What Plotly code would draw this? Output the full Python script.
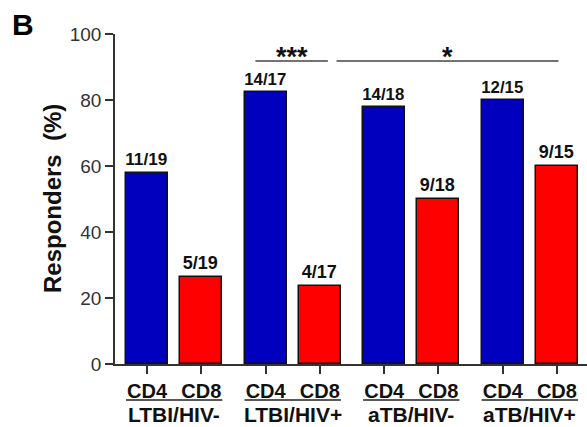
import plotly.graph_objects as go

groups = ["LTBI/HIV-", "LTBI/HIV+", "aTB/HIV-", "aTB/HIV+"]
cells = ["CD4", "CD8"]
cd4_pct = [57.9, 82.4, 77.8, 80.0]
cd8_pct = [26.3, 23.5, 50.0, 60.0]
cd4_labels = ["11/19", "14/17", "14/18", "12/15"]
cd8_labels = ["5/19", "4/17", "9/18", "9/15"]
y_ticks = [0, 20, 40, 60, 80, 100]

GROUP_PITCH = 2.19
BAR_W = 0.78
FONT = "Liberation Sans, Arial, sans-serif"

x_cd4 = [g * GROUP_PITCH for g in range(len(groups))]
x_cd8 = [g * GROUP_PITCH + 1 for g in range(len(groups))]

fig = go.Figure()
fig.add_trace(go.Bar(
    x=x_cd4, y=cd4_pct, width=BAR_W, text=cd4_labels, textposition="outside",
    marker=dict(color="#0000BE", line=dict(color="#111111", width=1.5)),
    textfont=dict(family=FONT, size=18, color="#111111", weight="bold"),
    cliponaxis=False, showlegend=False, hoverinfo="skip"))
fig.add_trace(go.Bar(
    x=x_cd8, y=cd8_pct, width=BAR_W, text=cd8_labels, textposition="outside",
    marker=dict(color="#FF0000", line=dict(color="#111111", width=1.5)),
    textfont=dict(family=FONT, size=18, color="#111111", weight="bold"),
    cliponaxis=False, showlegend=False, hoverinfo="skip"))

tickvals = []
ticktext = []
for a, b in zip(x_cd4, x_cd8):
    tickvals += [a, b]
    ticktext += cells

annotations = []
shapes = []
for g, name in enumerate(groups):
    cx = (x_cd4[g] + x_cd8[g]) / 2
    annotations.append(dict(x=cx, y=-0.152, xref="x", yref="paper", text="<b>" + name + "</b>",
                            showarrow=False, font=dict(family=FONT, size=21, color="#111111"),
                            xanchor="center", yanchor="middle"))
    shapes.append(dict(type="line", xref="x", yref="paper",
                       x0=x_cd4[g] - BAR_W / 2, x1=x_cd8[g] + BAR_W / 2, y0=-0.109, y1=-0.109,
                       line=dict(color="#222222", width=1.5)))

# significance brackets
sig = [
    (x_cd4[1] - 0.19, x_cd8[1] + 0.15, "***"),
    (x_cd8[1] + 0.31, x_cd8[3] + 0.03, "*"),
]
for x0, x1, s in sig:
    shapes.append(dict(type="line", xref="x", yref="y", x0=x0, x1=x1, y0=91.8, y1=91.8,
                       line=dict(color="#444444", width=1.5)))
    annotations.append(dict(x=(x0 + x1) / 2, y=91.8, xref="x", yref="y", text="<b>" + s + "</b>",
                            showarrow=False, font=dict(family=FONT, size=27, color="#111111"),
                            xanchor="center", yanchor="bottom", yshift=-13))

annotations.append(dict(x=-0.1335, y=0.503, xref="paper", yref="paper",
                        text="<b>Responders\u00a0\u00a0(%)</b>", textangle=-90, showarrow=False,
                        font=dict(family=FONT, size=24, color="#111111"),
                        xanchor="center", yanchor="middle"))
annotations.append(dict(x=-0.222, y=1.03, xref="paper", yref="paper", text="<b>B</b>",
                        showarrow=False, font=dict(family=FONT, size=30, color="#000000"),
                        xanchor="left", yanchor="middle"))

fig.update_layout(
    width=587, height=427,
    margin=dict(l=115, r=0, t=34, b=63),
    paper_bgcolor="white", plot_bgcolor="white",
    bargap=0, barmode="overlay",
    annotations=annotations, shapes=shapes,
    xaxis=dict(range=[-0.593, 3 * GROUP_PITCH + 1 + 0.556], tickvals=tickvals,
               ticktext=["<b>" + t + "</b>" for t in ticktext],
               tickfont=dict(family=FONT, size=20, color="#111111"),
               showline=True, linecolor="#333333", linewidth=1.5,
               ticks="outside", ticklen=8, tickwidth=1.5, tickcolor="#333333",
               showgrid=False, zeroline=False, fixedrange=True),
    yaxis=dict(range=[0, 100], tickvals=y_ticks,
               tickfont=dict(family=FONT, size=19, color="#333333"),
               showline=True, linecolor="#333333", linewidth=1.5,
               ticks="outside", ticklen=8, tickwidth=1.5, tickcolor="#333333",
               showgrid=False, zeroline=False, fixedrange=True),
)

fig.write_html("out.html")
